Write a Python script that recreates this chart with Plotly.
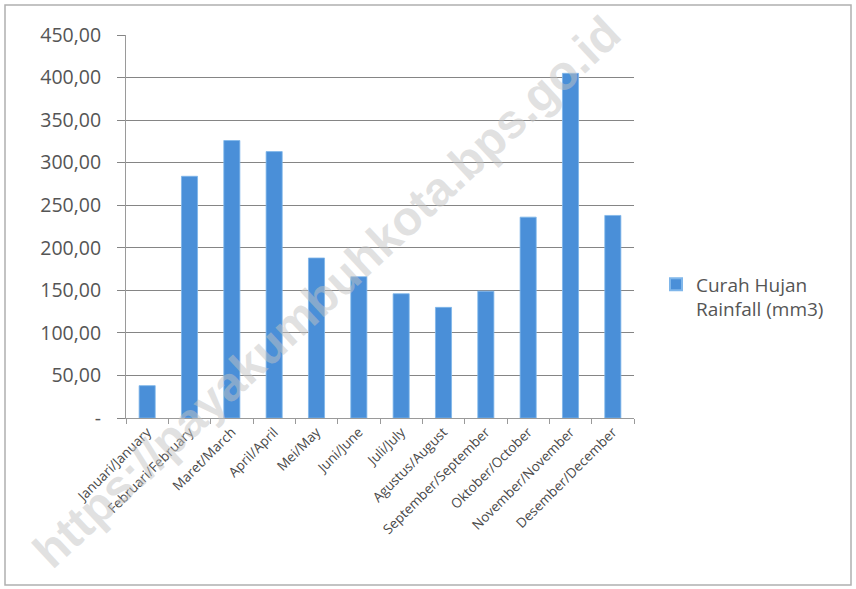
import plotly.graph_objects as go

months = ["Januari/January", "Februari/February", "Maret/March", "April/April",
          "Mei/May", "Juni/June", "Juli/July", "Agustus/August",
          "September/September", "Oktober/October", "November/November", "Desember/December"]
rainfall = [38, 284, 326, 313, 188, 166, 146, 130, 149, 236, 405, 238]
series_name = "Curah Hujan<br>Rainfall (mm3)"
y_tick_vals = [0, 50, 100, 150, 200, 250, 300, 350, 400, 450]
y_tick_text = ["-", "50,00", "100,00", "150,00", "200,00", "250,00", "300,00", "350,00", "400,00", "450,00"]

W, H = 856, 589
L, T = 126, 35
R = W - 634
B = H - 418
pw, ph = W - L - R, H - T - B

def px_x(px):
    return (px - L) / pw

def px_y(py):
    return (H - B - py) / ph

FONT = "Open Sans, Liberation Sans, sans-serif"

fig = go.Figure()
fig.add_trace(go.Bar(
    x=months, y=rainfall, name=series_name,
    marker=dict(color="#4a8fd8", line=dict(color="#7fb6ea", width=0.8)),
    showlegend=True,
))

fig.update_layout(
    width=W, height=H,
    margin=dict(l=L, r=R, t=T, b=B, autoexpand=False),
    paper_bgcolor="white", plot_bgcolor="white",
    font=dict(family=FONT, color="#555555"),
    bargap=0.62,
    showlegend=True,
    legend=dict(x=px_x(656), y=px_y(297), xanchor="left", yanchor="middle",
                valign="top",
                font=dict(size=19, color="#555555"), itemsizing="constant",
                bgcolor="rgba(0,0,0,0)"),
    xaxis=dict(
        tickangle=-45, tickfont=dict(size=13.5, color="#4a4a4a"),
        showline=True, linecolor="#9a9a9a", linewidth=1,
        ticks="outside", tickson="boundaries", ticklen=5, tickcolor="#9a9a9a",
        showgrid=False, automargin=False,
    ),
    yaxis=dict(
        range=[0, 450], tickvals=y_tick_vals, ticktext=y_tick_text,
        tickfont=dict(size=19.5, color="#555555"),
        showgrid=True, gridcolor="#858585", gridwidth=1,
        showline=True, linecolor="#9a9a9a", linewidth=1,
        ticks="outside", ticklen=8, tickcolor="#858585",
        ticklabelstandoff=12,
        zeroline=False, automargin=False,
    ),
)

# outer chart border
fig.add_shape(type="rect", xref="paper", yref="paper",
              x0=px_x(5), x1=px_x(851), y0=px_y(585), y1=px_y(5),
              line=dict(color="#b0b0b0", width=1.5), fillcolor="rgba(0,0,0,0)", layer="below")

# watermark
fig.add_annotation(text="https://payakumbuhkota.bps.go.id", xref="paper", yref="paper",
                   x=px_x(326), y=px_y(292), xanchor="center", yanchor="middle",
                   showarrow=False, textangle=-43,
                   font=dict(size=48, color="rgba(195,195,195,0.5)",
                             family="Liberation Sans, Arial, sans-serif", weight="bold"))

fig.write_html("out.html", config={"displayModeBar": False},
               post_script="document.body.style.margin='0';document.body.style.overflow='hidden';")
